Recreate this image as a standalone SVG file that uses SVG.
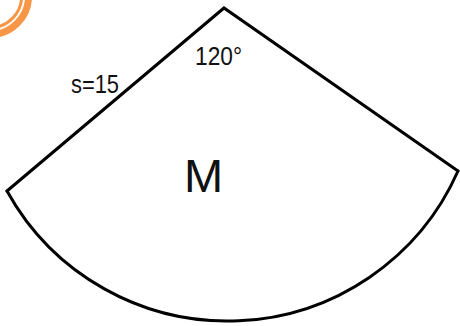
<svg xmlns="http://www.w3.org/2000/svg" width="460" height="326" viewBox="0 0 460 326">
  <style>
    .edge { fill: none; stroke: #000; stroke-width: 3; stroke-linejoin: miter; stroke-linecap: round; }
    .lbl { font-family: "Liberation Sans", Arial, sans-serif; fill: #111; }
    .deco { fill: none; stroke: #F79646; }
  </style>
  <rect width="460" height="326" fill="#fff"/>
  <g id="logo">
    <circle class="deco" cx="-10" cy="-4" r="31.7" stroke-width="3"/>
    <circle class="deco" cx="-10" cy="-4" r="38.6" stroke-width="7"/>
  </g>
  <g id="connectors">
    <path class="edge" d="M7,191 L224,8 L458,171"/>
    <path class="edge" d="M7,191 A252,252 0 0 0 458,171"/>
  </g>
  <g id="sector">
    <text class="lbl" x="195" y="65" font-size="25" textLength="47" lengthAdjust="spacingAndGlyphs">120°</text>
    <text class="lbl" x="71" y="93" font-size="26" textLength="48" lengthAdjust="spacingAndGlyphs">s=15</text>
    <text class="lbl" x="184" y="192" font-size="47">M</text>
  </g>
</svg>
